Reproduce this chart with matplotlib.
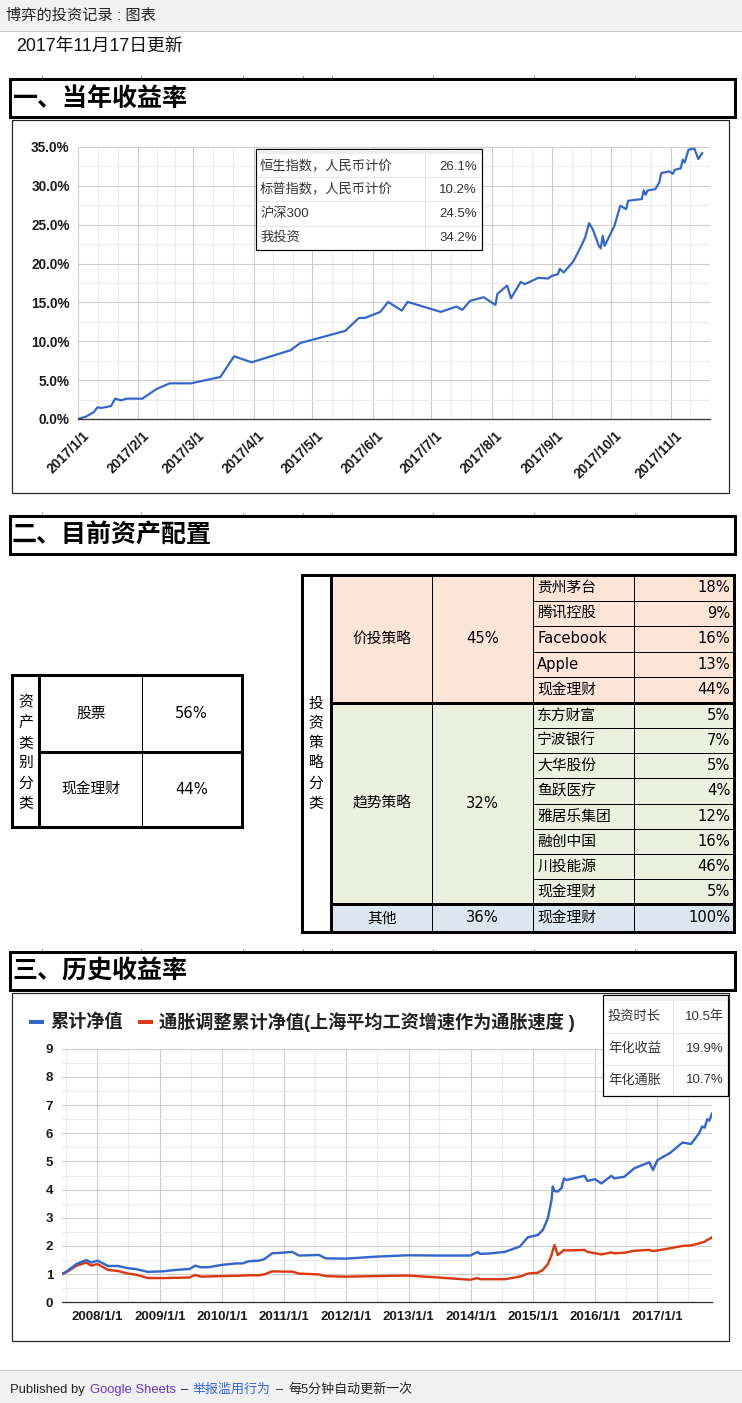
import matplotlib
matplotlib.use('Agg')
import matplotlib.pyplot as plt
from matplotlib.patches import Rectangle
from matplotlib.transforms import ScaledTranslation
import pandas as pd

W, H = 742, 1403
CJK = 'Noto Sans CJK SC'
SANS = ['Liberation Sans', CJK]
TABLE_FONT = ['DejaVu Sans', CJK]
plt.rcParams['font.family'] = SANS

BLUE = '#3366cc'
RED = '#dc3912'

# ---- data ----
page_title = '博弈的投资记录 : 图表'
update_text = '2017年11月17日更新'
section_titles = ['一、当年收益率', '二、目前资产配置', '三、历史收益率']

ytd_dates = [
    '2017-01-01', '2017-01-05', '2017-01-09', '2017-01-11', '2017-01-13', '2017-01-18',
    '2017-01-20', '2017-01-23', '2017-01-26', '2017-02-03', '2017-02-10', '2017-02-17',
    '2017-02-28', '2017-03-15', '2017-03-22', '2017-03-31', '2017-04-20', '2017-04-25',
    '2017-05-01', '2017-05-18', '2017-05-25', '2017-05-28', '2017-06-05', '2017-06-09',
    '2017-06-16', '2017-06-19', '2017-07-06', '2017-07-14', '2017-07-17', '2017-07-21',
    '2017-07-28', '2017-08-03', '2017-08-04', '2017-08-09', '2017-08-11', '2017-08-16',
    '2017-08-18', '2017-08-25', '2017-08-30', '2017-09-01', '2017-09-04', '2017-09-05',
    '2017-09-07', '2017-09-12', '2017-09-16', '2017-09-18', '2017-09-20', '2017-09-22',
    '2017-09-25', '2017-09-26', '2017-09-27', '2017-09-28', '2017-10-03', '2017-10-06',
    '2017-10-09', '2017-10-10', '2017-10-17', '2017-10-18', '2017-10-19', '2017-10-20',
    '2017-10-24', '2017-10-26', '2017-10-27', '2017-10-31', '2017-11-02', '2017-11-03',
    '2017-11-06', '2017-11-07', '2017-11-08', '2017-11-10', '2017-11-13', '2017-11-15',
    '2017-11-17',
]
ytd_values = [
    0.0, 0.3, 0.86, 1.5, 1.42, 1.67,
    2.62, 2.4, 2.62, 2.62, 3.82, 4.59,
    4.59, 5.41, 8.07, 7.3, 8.85, 9.79,
    10.18, 11.34, 13.0, 13.0, 13.78, 15.07,
    13.95, 15.07, 13.78, 14.47, 14.04, 15.2,
    15.67, 14.68, 16.1, 17.17, 15.54, 17.65,
    17.35, 18.16, 18.08, 18.42, 18.63, 19.32,
    18.85, 20.3, 22.28, 23.36, 25.2, 24.35,
    22.28, 21.94, 23.57, 22.28, 24.86, 27.44,
    27.0, 28.08, 28.3, 29.41, 28.85, 29.41,
    29.58, 30.44, 31.64, 31.86, 31.56, 32.07,
    32.25, 33.36, 33.0, 34.66, 34.78, 33.45,
    34.2,
]
ytd_legend_names = ['恒生指数，人民币计价', '标普指数，人民币计价', '沪深300', '我投资']
ytd_legend_values = ['26.1%', '10.2%', '24.5%', '34.2%']

asset_classes = ['股票', '现金理财']
asset_shares = ['56%', '44%']

strategies = ['价投策略', '趋势策略', '其他']
strategy_shares = ['45%', '32%', '36%']
value_holdings = ['贵州茅台', '腾讯控股', 'Facebook', 'Apple', '现金理财']
value_weights = ['18%', '9%', '16%', '13%', '44%']
trend_holdings = ['东方财富', '宁波银行', '大华股份', '鱼跃医疗', '雅居乐集团', '融创中国', '川投能源', '现金理财']
trend_weights = ['5%', '7%', '5%', '4%', '12%', '16%', '46%', '5%']
other_holdings = ['现金理财']
other_weights = ['100%']

hist_dates = [
    '2007-06-05', '2007-07-03', '2007-08-31', '2007-10-28', '2007-11-26', '2008-01-01',
    '2008-03-03', '2008-05-01', '2008-06-28', '2008-08-14', '2008-10-23', '2009-01-19',
    '2009-04-05', '2009-06-24', '2009-07-27', '2009-09-02', '2009-10-19', '2010-01-01',
    '2010-03-26', '2010-05-01', '2010-06-10', '2010-08-08', '2010-09-06', '2010-10-23',
    '2010-12-20', '2011-02-17', '2011-03-29', '2011-07-24', '2011-09-02', '2011-12-28',
    '2012-06-20', '2012-12-28', '2013-06-25', '2013-12-28', '2014-02-10', '2014-02-25',
    '2014-04-13', '2014-07-20', '2014-10-16', '2014-12-02', '2015-01-30', '2015-02-28',
    '2015-03-29', '2015-04-20', '2015-04-27', '2015-05-08', '2015-05-26', '2015-06-17',
    '2015-07-02', '2015-07-16', '2015-10-30', '2015-11-17', '2016-01-01', '2016-02-06',
    '2016-04-05', '2016-04-23', '2016-06-21', '2016-08-18', '2016-11-14', '2016-12-06',
    '2017-01-01', '2017-03-18', '2017-05-27', '2017-07-17', '2017-09-02', '2017-09-20',
    '2017-10-05', '2017-10-20', '2017-11-01', '2017-11-17',
]
nav_values = [
    1.00, 1.09, 1.36, 1.50, 1.41, 1.48,
    1.29, 1.29, 1.21, 1.18, 1.08, 1.10,
    1.15, 1.18, 1.30, 1.24, 1.25, 1.33,
    1.38, 1.38, 1.46, 1.48, 1.53, 1.74,
    1.76, 1.79, 1.66, 1.68, 1.56, 1.55,
    1.62, 1.67, 1.66, 1.66, 1.79, 1.72,
    1.73, 1.79, 1.98, 2.31, 2.39, 2.57,
    2.98, 3.63, 4.11, 3.95, 3.93, 4.05,
    4.40, 4.34, 4.49, 4.31, 4.37, 4.22,
    4.49, 4.40, 4.46, 4.76, 4.97, 4.70,
    5.05, 5.31, 5.67, 5.62, 6.00, 6.24,
    6.20, 6.50, 6.45, 6.70,
]
nav_real_values = [
    1.00, 1.07, 1.30, 1.41, 1.30, 1.36,
    1.15, 1.11, 1.02, 0.98, 0.86, 0.86,
    0.87, 0.88, 0.97, 0.91, 0.92, 0.93,
    0.94, 0.95, 0.96, 0.96, 0.99, 1.10,
    1.09, 1.09, 1.02, 0.99, 0.93, 0.91,
    0.93, 0.95, 0.88, 0.80, 0.86, 0.82,
    0.82, 0.82, 0.91, 1.02, 1.05, 1.15,
    1.35, 1.68, 1.85, 2.03, 1.68, 1.78,
    1.86, 1.84, 1.86, 1.79, 1.74, 1.70,
    1.77, 1.74, 1.76, 1.83, 1.86, 1.82,
    1.84, 1.92, 2.00, 2.02, 2.09, 2.13,
    2.15, 2.22, 2.24, 2.31,
]
hist_series = ['累计净值', '通胀调整累计净值(上海平均工资增速作为通胀速度 )']
hist_stat_names = ['投资时长', '年化收益', '年化通胀']
hist_stat_values = ['10.5年', '19.9%', '10.7%']


def pt(px):
    return px * 0.72


def px_rect(x0, y0, x1, y1):
    return [x0 / W, 1 - y1 / H, (x1 - x0) / W, (y1 - y0) / H]


fig = plt.figure(figsize=(W / 100, H / 100), dpi=100)

# ---- chart 1: 当年收益率 ----
ax1 = fig.add_axes(px_rect(78, 147, 710, 419))
d1 = pd.to_datetime(ytd_dates)
ax1.plot(d1, ytd_values, color=BLUE, lw=pt(2.2), zorder=3)
ax1.set_xlim(pd.Timestamp('2017-01-01'), pd.Timestamp('2017-11-17'))
ax1.set_ylim(0, 35)
months = pd.date_range('2017-01-01', '2017-12-01', freq='MS')
minor1 = []
for a, b in zip(months[:-1], months[1:]):
    minor1 += [a + (b - a) / 3, a + 2 * (b - a) / 3]
ax1.set_xticks(months[:-1])
ax1.set_xticklabels([f'{d.year}/{d.month}/{d.day}' for d in months[:-1]],
                    rotation=45, ha='right', va='top', rotation_mode='anchor')
ax1.set_xticks(minor1, minor=True)
ax1.set_yticks(range(0, 36, 5))
ax1.set_yticklabels([f'{v:.1f}%' for v in range(0, 36, 5)])
ax1.set_yticks([v + 2.5 for v in range(0, 35, 5)], minor=True)

# ---- chart 2: 历史收益率 ----
ax2 = fig.add_axes(px_rect(61.7, 1048.8, 712, 1302.3))
d2 = pd.to_datetime(hist_dates)
ax2.plot(d2, nav_real_values, color=RED, lw=pt(2.4), zorder=3)
ax2.plot(d2, nav_values, color=BLUE, lw=pt(2.4), zorder=3)
ax2.set_xlim(pd.Timestamp('2007-06-05'), pd.Timestamp('2017-11-17'))
ax2.set_ylim(0, 9)
years = pd.date_range('2008-01-01', '2017-01-01', freq='YS')
ax2.set_xticks(years)
ax2.set_xticklabels([f'{d.year}/1/1' for d in years])
ax2.set_xticks(pd.date_range('2007-07-01', '2017-07-01', freq='12MS'), minor=True)
ax2.set_yticks(range(0, 10))
ax2.set_yticks([v + 0.5 for v in range(0, 9)], minor=True)

for ax, fs in ((ax1, 9.8), (ax2, 9.5)):
    ax.grid(which='major', color='#cccccc', lw=0.8, zorder=0)
    ax.grid(which='minor', color='#ebebeb', lw=0.8, zorder=0)
    for side in ('top', 'right', 'left'):
        ax.spines[side].set_visible(False)
    ax.spines['bottom'].set_color('#333333')
    ax.spines['bottom'].set_linewidth(pt(1.3))
    ax.spines['bottom'].set_zorder(4)
    ax.tick_params(which='both', length=0)
    ax.tick_params(axis='y', pad=6)
    for lbl in ax.get_xticklabels() + ax.get_yticklabels():
        lbl.set_fontweight('bold')
        lbl.set_fontsize(fs)
        lbl.set_color('#1a1a1a')
ax1.tick_params(axis='x', pad=7)
ax2.tick_params(axis='x', pad=6)
for lbl in ax1.get_xticklabels():
    lbl.set_transform(lbl.get_transform() + ScaledTranslation(4 / 100, 0, fig.dpi_scale_trans))

# ---- page overlay ----
ov = fig.add_axes([0, 0, 1, 1], zorder=10)
ov.set_xlim(0, W)
ov.set_ylim(H, 0)
ov.axis('off')
ov.patch.set_alpha(0)


def box(x0, y0, x1, y1, lw=1.0, ec='black', fc='none', z=2):
    ov.add_patch(Rectangle((x0, y0), x1 - x0, y1 - y0, lw=pt(lw), ec=ec, fc=fc, zorder=z))


def line(x0, y0, x1, y1, lw=1.0, color='black', z=3):
    ov.plot([x0, x1], [y0, y1], color=color, lw=pt(lw), solid_capstyle='projecting', zorder=z)


def label(x, y, s, size, ha='left', color='#222222', weight='normal', family=None, z=5):
    ov.text(x, y, s, fontsize=pt(size), ha=ha, va='center', color=color,
            fontweight=weight, family=family or SANS, zorder=z)


# top bar
box(0, 0, W, 31, lw=0, fc='#f1f1f1', z=1)
line(0, 31, W, 31, color='#c8c8c8')
label(6, 16, page_title, 15.2, color='#222222')
label(16, 46, update_text, 17.8, color='#111111')

# section headers
col_marks = [41.7, 141, 242.6, 303, 331.7, 432.7, 534, 635]
for title, (y0, y1) in zip(section_titles, [(79, 117), (516, 554), (952, 990)]):
    box(10, y0, 735, y1, lw=3)
    for cx in col_marks:
        line(cx, y0 - 3, cx, y0 + 1, lw=1, color='#999999', z=1)
    label(12, (y0 + y1) / 2 + 1, title, 25, color='black', weight='bold')

# chart frames
box(12, 120, 729, 493, lw=1.2, ec='#222222')
box(12, 993, 729, 1341, lw=1.2, ec='#222222')

# chart 1 legend table
box(256, 149, 482, 250, lw=1.2, ec='black', fc='white', z=4)
box(256.6, 149.6, 481.4, 154, lw=0, fc='#eeeeee', z=4)
for yy in (177.3, 201.3, 225.7):
    line(257, yy, 481, yy, color='#e6e6e6', z=4)
line(425, 154, 425, 249, color='#e6e6e6', z=4)
for i, (n, v) in enumerate(zip(ytd_legend_names, ytd_legend_values)):
    yy = 166.5 + 23.8 * i
    label(260, yy, n, 13.3, color='#333333')
    label(477, yy, v, 13.3, ha='right', color='#333333')

# asset class table
box(11.7, 675, 241.7, 826.7, lw=3, z=3)
line(39.3, 675, 39.3, 826.7, lw=3)
line(39.3, 752, 241.7, 752, lw=3)
line(141.7, 675, 141.7, 826.7, lw=1)
for i, ch in enumerate('资产类别分类'):
    label(25.5, 702 + 20.2 * i, ch, 14.8, ha='center', color='black', family=TABLE_FONT)
for i, (n, v) in enumerate(zip(asset_classes, asset_shares)):
    yy = 713.5 + 76 * i
    label(91, yy, n, 14.8, ha='center', color='black', family=TABLE_FONT)
    label(191.5, yy, v, 14.8, ha='center', color='black', family=TABLE_FONT)

# strategy table
X0, XA, XB, XC, XD, XE = 301.7, 331, 432.3, 533.3, 634.3, 734.3
groups = [
    (strategies[0], strategy_shares[0], value_holdings, value_weights, '#fce5d6', 575, 702.7),
    (strategies[1], strategy_shares[1], trend_holdings, trend_weights, '#ebf1de', 702.7, 904.3),
    (strategies[2], strategy_shares[2], other_holdings, other_weights, '#dce6f1', 904.3, 931.7),
]
for name, share, items, weights, fc, gy0, gy1 in groups:
    box(XA, gy0, XE, gy1, lw=0, fc=fc, z=1)
    gc = (gy0 + gy1) / 2
    label((XA + XB) / 2, gc, name, 14.8, ha='center', color='black', family=TABLE_FONT)
    label((XB + XC) / 2, gc, share, 14.8, ha='center', color='black', family=TABLE_FONT)
    rh = (gy1 - gy0) / len(items)
    for j, (it, w) in enumerate(zip(items, weights)):
        ry = gy0 + rh * (j + 0.5)
        label(XC + 4, ry, it, 14.8, color='black', family=TABLE_FONT)
        label(XE - 4, ry, w, 14.8, ha='right', color='black', family=TABLE_FONT)
        if j > 0:
            line(XC, gy0 + rh * j, XE, gy0 + rh * j, lw=1)
for xx in (XB, XC, XD):
    line(xx, 575, xx, 931.7, lw=1)
line(XA, 702.7, XE, 702.7, lw=3)
line(XA, 904.3, XE, 904.3, lw=3)
line(XA, 575, XA, 931.7, lw=3)
box(X0, 575, XE, 931.7, lw=3, z=3)
for i, ch in enumerate('投资策略分类'):
    label(316, 703 + 20 * i, ch, 14.8, ha='center', color='black', family=TABLE_FONT)

# chart 2 legend
line(31, 1022, 42, 1022, lw=4, color=BLUE)
label(50, 1022, hist_series[0], 18.2, color='#222222', weight='bold')
line(140, 1022, 151, 1022, lw=4, color=RED)
label(159, 1022, hist_series[1], 18.2, color='#222222', weight='bold')

# chart 2 stats table
box(603.3, 995, 728, 1096, lw=1.2, ec='black', fc='white', z=4)
box(604, 995.6, 727.4, 1001, lw=0, fc='#eeeeee', z=4)
for yy in (1033, 1064.5):
    line(604, yy, 727.4, yy, color='#e6e6e6', z=4)
line(673.3, 1001, 673.3, 1095, color='#e6e6e6', z=4)
for i, (n, v) in enumerate(zip(hist_stat_names, hist_stat_values)):
    yy = 1017 + 31.5 * i
    label(608, yy, n, 13.3, color='#333333')
    label(724, yy, v, 13.3, ha='right', color='#333333')

# footer
box(0, 1370, W, H, lw=0, fc='#f1f1f1', z=1)
line(0, 1370, W, 1370, color='#c8c8c8')
renderer = fig.canvas.get_renderer()
fx = 10
parts = [('Published by', '#222222'), ('Google Sheets', '#6a35c9'), ('–', '#222222'),
         ('举报滥用行为', '#3366dd'), ('–', '#222222'), ('每5分钟自动更新一次', '#222222')]
for s, c in parts:
    t = ov.text(fx, 1390, s, fontsize=pt(13), ha='left', va='center', color=c, family=SANS, zorder=5)
    fx += t.get_window_extent(renderer).width + 5

fig.savefig('out.png', dpi=100)
